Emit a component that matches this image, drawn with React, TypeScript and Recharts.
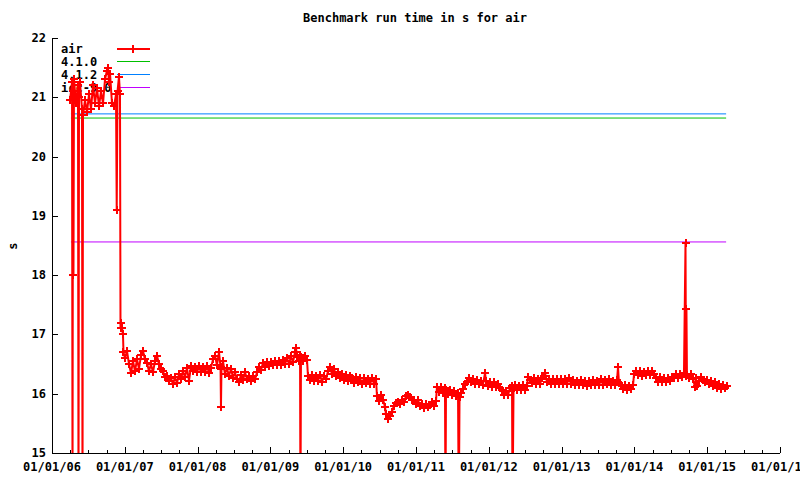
import { LineChart, Line, XAxis, YAxis, Customized } from "recharts";

// run dates as decimal years, run times in seconds (values below 15 are off-scale failures)
const airYears = [
  2006.247, 2006.275, 2006.282, 2006.288, 2006.295, 2006.302, 2006.33, 2006.357, 2006.364, 2006.371,
  2006.385, 2006.412, 2006.419, 2006.426, 2006.453, 2006.481, 2006.508, 2006.536, 2006.563, 2006.591,
  2006.618, 2006.646, 2006.673, 2006.701, 2006.728, 2006.755, 2006.769, 2006.783, 2006.797, 2006.824,
  2006.852, 2006.879, 2006.889, 2006.9, 2006.92, 2006.934, 2006.941, 2006.948, 2006.962, 2006.975,
  2006.982, 2007.003, 2007.03, 2007.058, 2007.085, 2007.113, 2007.14, 2007.168, 2007.195, 2007.223,
  2007.25, 2007.277, 2007.305, 2007.332, 2007.36, 2007.387, 2007.415, 2007.442, 2007.47, 2007.497,
  2007.525, 2007.552, 2007.58, 2007.607, 2007.635, 2007.662, 2007.69, 2007.717, 2007.745, 2007.772,
  2007.799, 2007.827, 2007.854, 2007.882, 2007.909, 2007.937, 2007.964, 2007.992, 2008.019, 2008.047,
  2008.074, 2008.102, 2008.129, 2008.157, 2008.184, 2008.212, 2008.239, 2008.266, 2008.294, 2008.315,
  2008.321, 2008.328, 2008.349, 2008.376, 2008.404, 2008.431, 2008.459, 2008.486, 2008.514, 2008.541,
  2008.569, 2008.596, 2008.624, 2008.651, 2008.679, 2008.706, 2008.734, 2008.761, 2008.788, 2008.816,
  2008.843, 2008.871, 2008.898, 2008.926, 2008.953, 2008.981, 2009.008, 2009.036, 2009.063, 2009.091,
  2009.118, 2009.146, 2009.173, 2009.201, 2009.228, 2009.256, 2009.283, 2009.31, 2009.338, 2009.352,
  2009.365, 2009.393, 2009.407, 2009.413, 2009.42, 2009.448, 2009.475, 2009.503, 2009.516, 2009.544,
  2009.571, 2009.599, 2009.626, 2009.654, 2009.681, 2009.709, 2009.736, 2009.764, 2009.791, 2009.819,
  2009.846, 2009.874, 2009.901, 2009.929, 2009.956, 2009.984, 2010.011, 2010.038, 2010.066, 2010.093,
  2010.121, 2010.148, 2010.176, 2010.203, 2010.231, 2010.258, 2010.286, 2010.313, 2010.341, 2010.368,
  2010.396, 2010.423, 2010.451, 2010.464, 2010.492, 2010.519, 2010.547, 2010.574, 2010.588, 2010.615,
  2010.643, 2010.67, 2010.698, 2010.725, 2010.753, 2010.78, 2010.808, 2010.835, 2010.863, 2010.89,
  2010.918, 2010.945, 2010.973, 2011.0, 2011.027, 2011.055, 2011.082, 2011.11, 2011.137, 2011.165,
  2011.192, 2011.22, 2011.247, 2011.275, 2011.288, 2011.316, 2011.343, 2011.371, 2011.398, 2011.405,
  2011.412, 2011.44, 2011.467, 2011.494, 2011.522, 2011.549, 2011.577, 2011.588, 2011.598, 2011.618,
  2011.645, 2011.673, 2011.7, 2011.728, 2011.755, 2011.783, 2011.81, 2011.838, 2011.865, 2011.893,
  2011.92, 2011.948, 2011.962, 2011.989, 2012.016, 2012.044, 2012.071, 2012.099, 2012.126, 2012.154,
  2012.181, 2012.209, 2012.236, 2012.264, 2012.291, 2012.319, 2012.326, 2012.34, 2012.36, 2012.387,
  2012.415, 2012.442, 2012.47, 2012.497, 2012.525, 2012.538, 2012.566, 2012.593, 2012.621, 2012.648,
  2012.676, 2012.703, 2012.731, 2012.758, 2012.772, 2012.799, 2012.827, 2012.854, 2012.882, 2012.909,
  2012.937, 2012.964, 2012.992, 2013.019, 2013.047, 2013.074, 2013.102, 2013.129, 2013.157, 2013.184,
  2013.212, 2013.239, 2013.266, 2013.294, 2013.321, 2013.349, 2013.376, 2013.404, 2013.431, 2013.459,
  2013.486, 2013.514, 2013.541, 2013.569, 2013.596, 2013.624, 2013.651, 2013.679, 2013.706, 2013.734,
  2013.761, 2013.775, 2013.788, 2013.816, 2013.843, 2013.871, 2013.898, 2013.926, 2013.953, 2013.981,
  2013.995, 2014.022, 2014.049, 2014.077, 2014.104, 2014.132, 2014.159, 2014.187, 2014.214, 2014.242,
  2014.269, 2014.297, 2014.324, 2014.352, 2014.379, 2014.407, 2014.434, 2014.462, 2014.489, 2014.516,
  2014.544, 2014.571, 2014.599, 2014.626, 2014.654, 2014.681, 2014.702, 2014.709, 2014.715, 2014.722,
  2014.75, 2014.777, 2014.805, 2014.832, 2014.846, 2014.86, 2014.887, 2014.915, 2014.942, 2014.97,
  2014.997, 2015.025, 2015.052, 2015.08, 2015.107, 2015.135, 2015.162, 2015.19, 2015.217, 2015.245,
  2015.272,
];

const airTimes = [
  20.95, 21.25, 14, 21.1, 18.0, 21.3, 20.9, 21.2, 14, 21.0,
  21.25, 20.8, 14, 20.7, 20.95, 20.75, 21.05, 20.8, 21.2, 20.9,
  21.15, 20.85, 21.1, 20.9, 21.3, 21.45, 21.5, 21.25, 21.4, 20.9,
  20.85, 21.05, 19.1, 21.1, 21.35, 21.05, 17.1, 17.2, 17.1, 17.0,
  16.7, 16.6, 16.72, 16.5, 16.35, 16.55, 16.38, 16.58, 16.42, 16.65,
  16.72, 16.58, 16.52, 16.38, 16.5, 16.36, 16.55, 16.64, 16.5, 16.42,
  16.38, 16.28, 16.3, 16.22, 16.26, 16.16, 16.28, 16.18, 16.33, 16.25,
  16.38, 16.28, 16.43, 16.22, 16.46, 16.38, 16.45, 16.36, 16.46, 16.36,
  16.45, 16.36, 16.47, 16.35, 16.44, 16.58, 16.64, 16.48, 16.7, 16.45,
  15.77, 16.42, 16.55, 16.33, 16.43, 16.3, 16.42, 16.27, 16.36, 16.24,
  16.2, 16.32, 16.23, 16.36, 16.25, 16.3, 16.22, 16.3, 16.24, 16.36,
  16.45, 16.4, 16.52, 16.45, 16.54, 16.46, 16.53, 16.48, 16.55, 16.49,
  16.56, 16.48, 16.57, 16.5, 16.6, 16.5, 16.63, 16.53, 16.7, 16.77,
  16.62, 16.56, 16.66, 14, 16.62, 16.56, 16.63, 16.57, 16.3, 16.23,
  16.31, 16.21, 16.3, 16.22, 16.32, 16.2, 16.3, 16.24, 16.38, 16.45,
  16.33, 16.42, 16.3, 16.37, 16.26, 16.34, 16.23, 16.32, 16.21, 16.3,
  16.27, 16.18, 16.29, 16.19, 16.27, 16.16, 16.27, 16.18, 16.25, 16.16,
  16.26, 16.17, 16.24, 15.96, 15.88, 15.98, 15.9, 15.78, 15.65, 15.58,
  15.63, 15.7, 15.8, 15.84, 15.86, 15.82, 15.89, 15.86, 15.96, 15.97,
  15.94, 15.89, 15.9, 15.83, 15.89, 15.8, 15.82, 15.76, 15.83, 15.77,
  15.81, 15.86, 15.8, 15.88, 16.12, 16.03, 16.11, 16.02, 16.09, 14,
  16.06, 16.0, 16.07, 15.98, 16.04, 15.96, 16.02, 14, 15.95, 16.02,
  16.08, 16.16, 16.19, 16.26, 16.2, 16.24, 16.17, 16.23, 16.16, 16.21,
  16.15, 16.35, 16.21, 16.13, 16.2, 16.11, 16.19, 16.12, 16.17, 16.1,
  16.07, 15.98, 16.05, 15.97, 16.1, 16.13, 14, 16.1, 16.14, 16.06,
  16.13, 16.07, 16.15, 16.07, 16.13, 16.28, 16.23, 16.18, 16.26, 16.17,
  16.24, 16.17, 16.26, 16.3, 16.35, 16.2, 16.25, 16.17, 16.24, 16.17,
  16.24, 16.17, 16.25, 16.16, 16.24, 16.17, 16.26, 16.16, 16.23, 16.15,
  16.22, 16.14, 16.23, 16.15, 16.21, 16.13, 16.22, 16.14, 16.23, 16.15,
  16.21, 16.14, 16.24, 16.15, 16.23, 16.16, 16.24, 16.15, 16.22, 16.14,
  16.23, 16.45, 16.18, 16.14, 16.08, 16.14, 16.07, 16.13, 16.08, 16.14,
  16.33, 16.39, 16.31, 16.38, 16.3, 16.37, 16.31, 16.38, 16.32, 16.39,
  16.33, 16.27, 16.2, 16.28, 16.2, 16.27, 16.19, 16.26, 16.21, 16.29,
  16.27, 16.34, 16.27, 16.34, 16.28, 16.35, 18.55, 16.3, 17.43, 16.32,
  16.27, 16.33, 16.24, 16.12, 16.26, 16.13, 16.22, 16.29, 16.23, 16.2,
  16.23, 16.16, 16.21, 16.13, 16.19, 16.1, 16.16, 16.08, 16.14, 16.09,
  16.13,
];

// compiler reference timings, drawn across the run period
const refYears = [2006.26, 2015.26];
const gcc410Times = [20.65, 20.65];
const gcc412Times = [20.72, 20.72];
const icc90Times = [18.56, 18.56];

const yearTicks = [2006, 2007, 2008, 2009, 2010, 2011, 2012, 2013, 2014, 2015, 2016];
const xTicks = yearTicks.flatMap((y) => (y < 2016 ? [y, y + 0.25, y + 0.5, y + 0.75] : [y]));
const yTicks = [15, 16, 17, 18, 19, 20, 21, 22];

const airData = airYears.map((year, i) => ({ year, time: airTimes[i] }));
const gcc410Data = refYears.map((year, i) => ({ year, time: gcc410Times[i] }));
const gcc412Data = refYears.map((year, i) => ({ year, time: gcc412Times[i] }));
const icc90Data = refYears.map((year, i) => ({ year, time: icc90Times[i] }));

const FONT = "'DejaVu Sans Mono', 'Liberation Mono', monospace";
const RED = "#ff0000";
const GREEN = "#00c000";
const BLUE = "#0080ff";
const MAGENTA = "#c000ff";

const fmtDate = (y: number) => "01/01/" + String(y % 100).padStart(2, "0");

const Cross = (props: any) => {
  const { cx, cy } = props;
  if (cx == null || cy == null || isNaN(cx) || isNaN(cy)) return null;
  const x = Math.round(cx);
  const y = Math.round(cy);
  return (
    <path
      d={`M${x - 4},${y}h8M${x},${y - 4}v8`}
      stroke={RED}
      strokeWidth={2}
      fill="none"
      shapeRendering="crispEdges"
    />
  );
};

const BottomTick = (props: any) => {
  const { x, y, payload } = props;
  const v = payload.value;
  const major = Math.abs(v - Math.round(v)) < 1e-6;
  const px = Math.round(x) + 0.5;
  return (
    <g>
      <line x1={px} x2={px} y1={y} y2={y - (major ? 6 : 3)} stroke="#000" shapeRendering="crispEdges" />
      {major && (
        <text x={x} y={y + 18} textAnchor="middle" fontFamily={FONT} fontWeight="bold" fontSize={12} fill="#000">
          {fmtDate(Math.round(v))}
        </text>
      )}
    </g>
  );
};

const TopTick = (props: any) => {
  const { x, y, payload } = props;
  const v = payload.value;
  const major = Math.abs(v - Math.round(v)) < 1e-6;
  const px = Math.round(x) + 0.5;
  return <line x1={px} x2={px} y1={y} y2={y + (major ? 6 : 3)} stroke="#000" shapeRendering="crispEdges" />;
};

const LeftTick = (props: any) => {
  const { x, y, payload } = props;
  const py = Math.round(y) + 0.5;
  return (
    <g>
      <line x1={x} x2={x + 6} y1={py} y2={py} stroke="#000" shapeRendering="crispEdges" />
      <text x={x - 6} y={y + 4} textAnchor="end" fontFamily={FONT} fontWeight="bold" fontSize={12} fill="#000">
        {payload.value}
      </text>
    </g>
  );
};

const RightTick = (props: any) => {
  const { x, y } = props;
  const py = Math.round(y) + 0.5;
  return <line x1={x} x2={x - 6} y1={py} y2={py} stroke="#000" shapeRendering="crispEdges" />;
};

const legendRows = [
  { label: "air", color: RED, width: 2 },
  { label: "4.1.0", color: GREEN, width: 1 },
  { label: "4.1.2", color: BLUE, width: 1 },
  { label: "icc-9.0", color: MAGENTA, width: 1 },
];

const Decorations = () => (
  <g fontFamily={FONT} fontWeight="bold" fontSize={12} fill="#000">
    <text x={415} y={22} textAnchor="middle">
      Benchmark run time in s for air
    </text>
    <text x={17} y={246} textAnchor="middle" transform="rotate(-90 17 246)">
      s
    </text>
    {legendRows.map((r, i) => {
      const y = 48.5 + i * 13;
      return (
        <g key={r.label}>
          <text x={61} y={y + 4}>
            {r.label}
          </text>
          <line x1={117} x2={150} y1={y} y2={y} stroke={r.color} strokeWidth={r.width} shapeRendering="crispEdges" />
          {i === 0 && (
            <path d={`M129,${y}h8M133,${y - 4}v8`} stroke={RED} strokeWidth={2} shapeRendering="crispEdges" />
          )}
        </g>
      );
    })}
  </g>
);

export default function App() {
  return (
    <div style={{ position: "absolute", left: 0, top: 0, width: 800, height: 480, background: "#fff" }}>
      <LineChart width={800} height={480} margin={{ top: 38, right: 20, bottom: 0, left: 0 }}>
        <Customized component={Decorations} />
        <XAxis
          dataKey="year"
          type="number"
          domain={[2006, 2016]}
          allowDataOverflow
          ticks={xTicks}
          interval={0}
          height={27}
          tickSize={0}
          tickMargin={0}
          tickLine={false}
          axisLine={{ stroke: "#000", shapeRendering: "crispEdges" }}
          tick={<BottomTick />}
        />
        <XAxis
          xAxisId="top"
          orientation="top"
          dataKey="year"
          type="number"
          domain={[2006, 2016]}
          allowDataOverflow
          ticks={xTicks}
          interval={0}
          height={0}
          tickSize={0}
          tickMargin={0}
          tickLine={false}
          axisLine={{ stroke: "#000", shapeRendering: "crispEdges" }}
          tick={<TopTick />}
        />
        <YAxis
          type="number"
          domain={[15, 22]}
          allowDataOverflow
          ticks={yTicks}
          interval={0}
          width={52}
          tickSize={0}
          tickMargin={0}
          tickLine={false}
          axisLine={{ stroke: "#000", shapeRendering: "crispEdges" }}
          tick={<LeftTick />}
        />
        <YAxis
          yAxisId="right"
          orientation="right"
          type="number"
          domain={[15, 22]}
          allowDataOverflow
          ticks={yTicks}
          interval={0}
          width={0}
          tickSize={0}
          tickMargin={0}
          tickLine={false}
          axisLine={{ stroke: "#000", shapeRendering: "crispEdges" }}
          tick={<RightTick />}
        />
        <Line
          data={gcc410Data}
          dataKey="time"
          stroke={GREEN}
          strokeWidth={1}
          dot={false}
          type="linear"
          isAnimationActive={false}
        />
        <Line
          data={gcc412Data}
          dataKey="time"
          stroke={BLUE}
          strokeWidth={1}
          dot={false}
          type="linear"
          isAnimationActive={false}
        />
        <Line
          data={icc90Data}
          dataKey="time"
          stroke={MAGENTA}
          strokeWidth={1}
          dot={false}
          type="linear"
          isAnimationActive={false}
        />
        <Line
          data={airData}
          dataKey="time"
          stroke={RED}
          strokeWidth={2}
          dot={<Cross />}
          type="linear"
          isAnimationActive={false}
        />
      </LineChart>
    </div>
  );
}
